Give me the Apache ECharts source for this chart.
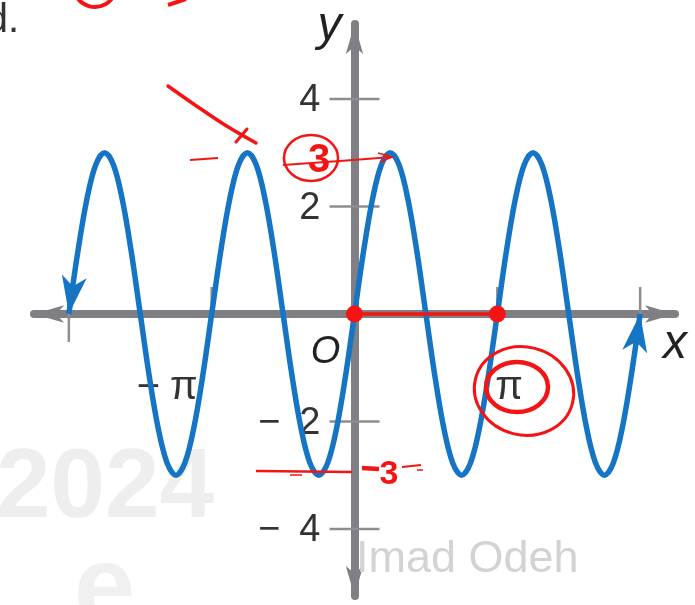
<!DOCTYPE html>
<html>
<head>
<meta charset="utf-8">
<script src="https://cdn.jsdelivr.net/npm/echarts@6/dist/echarts.min.js"></script>
<style>
  html, body { margin: 0; padding: 0; background: #ffffff; }
  #chart { width: 695px; height: 605px; }
</style>
</head>
<body>
<div id="chart"></div>
<script>
const PI = Math.PI;

// Wave samples: x given in multiples of π (step π/16), y as plotted
const curveXPi = [
  -2, -1.9375, -1.875, -1.8125, -1.75, -1.6875, -1.625, -1.5625,
  -1.5, -1.4375, -1.375, -1.3125, -1.25, -1.1875, -1.125, -1.0625,
  -1, -0.9375, -0.875, -0.8125, -0.75, -0.6875, -0.625, -0.5625,
  -0.5, -0.4375, -0.375, -0.3125, -0.25, -0.1875, -0.125, -0.0625,
  0, 0.0625, 0.125, 0.1875, 0.25, 0.3125, 0.375, 0.4375,
  0.5, 0.5625, 0.625, 0.6875, 0.75, 0.8125, 0.875, 0.9375,
  1, 1.0625, 1.125, 1.1875, 1.25, 1.3125, 1.375, 1.4375,
  1.5, 1.5625, 1.625, 1.6875, 1.75, 1.8125, 1.875, 1.9375, 2
];
const curveY = [
  0, 1.15, 2.12, 2.77, 3, 2.77, 2.12, 1.15, 0, -1.15, -2.12, -2.77, -3, -2.77, -2.12, -1.15,
  0, 1.15, 2.12, 2.77, 3, 2.77, 2.12, 1.15, 0, -1.15, -2.12, -2.77, -3, -2.77, -2.12, -1.15,
  0, 1.15, 2.12, 2.77, 3, 2.77, 2.12, 1.15, 0, -1.15, -2.12, -2.77, -3, -2.77, -2.12, -1.15,
  0, 1.15, 2.12, 2.77, 3, 2.77, 2.12, 1.15, 0, -1.15, -2.12, -2.77, -3, -2.77, -2.12, -1.15,
  0
];

// Axis ticks and their labels
const yTickValues = [-4, -2, 2, 4];
const yTickLabels = ['\u2212\u20024', '\u2212\u20022', '2', '4'];
const xTickPi = [-2, -1, 1, 2];
const xLabelPi = [-1, 1];
const xLabelText = ['\u2212\u2005\u03c0', '\u03c0'];

// Hand-marked points on the x-axis (multiples of π)
const markedXPi = [0, 1];

// Axis extents
const X_MIN = -7.05, X_MAX = 7.05;
const Y_MIN = -5.247, Y_MAX = 5.395;

const BLUE = '#1575c4';
const AXIS_GRAY = '#7f7f84';
const TICK_GRAY = '#8e8e90';
const TEXT = '#333333';
const RED = '#f41414';
const ARROW_HALF_W = 12.5, ARROW_L = 38, ARROW_NOTCH = 28;

const curveData = curveXPi.map((k, i) => [k * PI, curveY[i]]);
const last = curveData.length - 1;
// each arrow: end point followed by its neighbour on the curve
const arrowData = [
  [curveData[0][0], curveData[0][1], curveData[1][0], curveData[1][1]],
  [curveData[last][0], curveData[last][1], curveData[last - 1][0], curveData[last - 1][1]]
];

const chart = echarts.init(document.getElementById('chart'), null, { renderer: 'canvas' });

const option = {
  animation: false,
  backgroundColor: '#ffffff',
  grid: { left: 34, right: 20, top: 24, bottom: 9, containLabel: false },
  xAxis: {
    type: 'value', min: X_MIN, max: X_MAX, z: 0,
    axisLine: {
      onZero: true, symbol: ['arrow', 'arrow'], symbolSize: [13, 30],
      lineStyle: { color: AXIS_GRAY, width: 8 }
    },
    axisTick: { show: false }, axisLabel: { show: false }, splitLine: { show: false }
  },
  yAxis: {
    type: 'value', min: Y_MIN, max: Y_MAX, z: 0,
    axisLine: {
      onZero: true, symbol: ['arrow', 'arrow'], symbolSize: [13, 30],
      lineStyle: { color: AXIS_GRAY, width: 8 }
    },
    axisTick: { show: false }, axisLabel: { show: false }, splitLine: { show: false }
  },
  graphic: [
    // faint background stamp
    { type: 'text', z: -1, x: 214, y: 490, style: { text: '2024', align: 'right', verticalAlign: 'middle', font: 'bold 98px "Liberation Sans"', fill: '#eeeeee' } },
    { type: 'text', z: -1, x: 74, y: 592, style: { text: 'e', align: 'left', verticalAlign: 'middle', font: 'bold 110px "Liberation Sans"', fill: '#f0f0f0' } },
    // partial heading text
    { type: 'text', z: 5, x: 19, y: 21, style: { text: 'd.', align: 'right', verticalAlign: 'middle', font: '40px "Liberation Sans"', fill: '#333' } },
    // name stamp
    { type: 'text', z: 5, x: 356, y: 560, style: { text: 'Imad Odeh', align: 'left', verticalAlign: 'middle', font: '45px "Liberation Sans"', fill: '#d3d3d3' } },

    // red handwriting
    { type: 'arc', z: 20, shape: { cx: 95, cy: -14, r: 21, startAngle: 0.3, endAngle: 2.9 }, style: { stroke: RED, lineWidth: 4, fill: null } },
    { type: 'line', z: 20, shape: { x1: 168, y1: 5, x2: 186, y2: -1 }, style: { stroke: RED, lineWidth: 4 } },
    { type: 'polyline', z: 20, shape: { points: [[168, 86], [195, 105], [225, 125], [256, 143]], smooth: 0.3 }, style: { stroke: RED, lineWidth: 3.5, fill: null, lineCap: 'round' } },
    { type: 'line', z: 20, shape: { x1: 236, y1: 142, x2: 247, y2: 129 }, style: { stroke: RED, lineWidth: 3, lineCap: 'round' } },
    { type: 'line', z: 20, shape: { x1: 190, y1: 160, x2: 218, y2: 158 }, style: { stroke: RED, lineWidth: 1.8 } },
    { type: 'ellipse', z: 20, shape: { cx: 311, cy: 158, rx: 27, ry: 23 }, style: { stroke: RED, lineWidth: 2.5, fill: null } },
    { type: 'text', z: 20, x: 319, y: 161, style: { text: '3', align: 'center', verticalAlign: 'middle', font: 'bold 40px "Liberation Sans"', fill: RED } },
    { type: 'polyline', z: 20, shape: { points: [[283, 165], [340, 161], [392, 157]] }, style: { stroke: RED, lineWidth: 2.2, fill: null } },
    { type: 'polyline', z: 20, shape: { points: [[378, 153], [392, 157], [380, 162]] }, style: { stroke: RED, lineWidth: 1.8, fill: null } },
    { type: 'line', z: 20, shape: { x1: 256, y1: 471, x2: 352, y2: 472 }, style: { stroke: RED, lineWidth: 2.5 } },
    { type: 'line', z: 20, shape: { x1: 290, y1: 475, x2: 302, y2: 475 }, style: { stroke: RED, lineWidth: 1.5 } },
    { type: 'line', z: 20, shape: { x1: 362, y1: 468, x2: 379, y2: 469 }, style: { stroke: RED, lineWidth: 4.5 } },
    { type: 'text', z: 20, x: 389, y: 475, style: { text: '3', align: 'center', verticalAlign: 'middle', font: 'bold 34px "Liberation Sans"', fill: RED } },
    { type: 'line', z: 20, shape: { x1: 402, y1: 467, x2: 421, y2: 465 }, style: { stroke: RED, lineWidth: 2 } },
    { type: 'line', z: 20, shape: { x1: 417, y1: 470, x2: 423, y2: 470 }, style: { stroke: RED, lineWidth: 1.5 } },
    { type: 'ellipse', z: 20, shape: { cx: 517, cy: 387, rx: 31, ry: 25 }, style: { stroke: RED, lineWidth: 4.5, fill: null } },
    { type: 'ellipse', z: 20, rotation: -0.25, originX: 524, originY: 391, shape: { cx: 524, cy: 391, rx: 50, ry: 44 }, style: { stroke: RED, lineWidth: 3, fill: null } }
  ],
  series: [
    {
      // y-axis tick marks and their numbers
      type: 'custom', z: 1, silent: true,
      data: yTickValues.map((v, i) => [0, v, i]),
      renderItem: (params, api) => {
        const p = api.coord([0, api.value(1)]);
        const i = api.value(2);
        return {
          type: 'group',
          children: [
            { type: 'line', shape: { x1: p[0] - 25, y1: p[1], x2: p[0] + 25, y2: p[1] }, style: { stroke: TICK_GRAY, lineWidth: 2.5 } },
            { type: 'text', x: p[0] - 34, y: p[1] + 2, style: { text: yTickLabels[i], align: 'right', verticalAlign: 'middle', font: '38px "Liberation Sans"', fill: TEXT } }
          ]
        };
      }
    },
    {
      // x-axis tick marks: the outer ones cross the axis, the inner ones stand above it
      type: 'custom', z: 1, silent: true,
      data: xTickPi.map((k, i) => [k * PI, 0, i]),
      renderItem: (params, api) => {
        const p = api.coord([api.value(0), 0]);
        const outer = Math.abs(xTickPi[api.value(2)]) === 2;
        return { type: 'line', shape: { x1: p[0], y1: p[1] - 27, x2: p[0], y2: outer ? p[1] + 28 : p[1] }, style: { stroke: TICK_GRAY, lineWidth: 2.5 } };
      }
    },
    {
      type: 'custom', z: 2, silent: true,
      data: xLabelPi.map((k, i) => [k * PI, 0, i]),
      renderItem: (params, api) => {
        const p = api.coord([api.value(0), 0]);
        const i = api.value(2);
        const neg = api.value(0) < 0;
        return {
          type: 'text', x: neg ? p[0] - 14 : p[0] - 2, y: p[1] + 74,
          style: { text: xLabelText[i], align: neg ? 'right' : 'left', verticalAlign: 'middle', font: '40px "Liberation Sans"', fill: TEXT }
        };
      }
    },
    {
      // axis letters and origin
      type: 'custom', z: 2, silent: true,
      data: [[0, 0]],
      renderItem: (params, api) => {
        const o = api.coord([0, 0]);
        const top = api.coord([0, Y_MAX]);
        const right = api.coord([X_MAX, 0]);
        return {
          type: 'group',
          children: [
            { type: 'text', x: o[0] - 29, y: o[1] + 38, style: { text: 'O', align: 'center', verticalAlign: 'middle', font: 'italic 38px "Liberation Sans"', fill: '#222' } },
            { type: 'text', x: top[0] - 25, y: top[1] + 3, style: { text: 'y', align: 'center', verticalAlign: 'middle', font: 'italic 48px "Liberation Sans"', fill: '#222' } },
            { type: 'text', x: right[0], y: right[1] + 31, style: { text: 'x', align: 'center', verticalAlign: 'middle', font: 'italic 48px "Liberation Sans"', fill: '#222' } }
          ]
        };
      }
    },
    {
      type: 'line', z: 3, silent: true,
      data: curveData,
      smooth: 0.35, showSymbol: false,
      lineStyle: { color: BLUE, width: 5.5, cap: 'butt' }
    },
    {
      // arrowheads at both ends of the wave
      type: 'custom', z: 4, silent: true,
      data: arrowData,
      renderItem: (params, api) => {
        const tip = api.coord([api.value(0), api.value(1)]);
        const from = api.coord([api.value(2), api.value(3)]);
        let ux = tip[0] - from[0], uy = tip[1] - from[1];
        const len = Math.hypot(ux, uy);
        ux /= len; uy /= len;
        const nx = -uy, ny = ux;
        const bx = tip[0] - ux * ARROW_L, by = tip[1] - uy * ARROW_L;
        return {
          type: 'polygon',
          shape: {
            points: [
              [tip[0], tip[1]],
              [bx + nx * ARROW_HALF_W, by + ny * ARROW_HALF_W],
              [tip[0] - ux * ARROW_NOTCH, tip[1] - uy * ARROW_NOTCH],
              [bx - nx * ARROW_HALF_W, by - ny * ARROW_HALF_W]
            ]
          },
          style: { fill: BLUE }
        };
      }
    },
    {
      // red marks: points on the axis joined by a stroke
      type: 'line', z: 10, silent: true,
      data: markedXPi.map(k => [k * PI, 0]),
      symbol: 'circle', symbolSize: 17,
      itemStyle: { color: RED },
      lineStyle: { color: RED, width: 3.5 }
    }
  ]
};

chart.setOption(option);
</script>
</body>
</html>
